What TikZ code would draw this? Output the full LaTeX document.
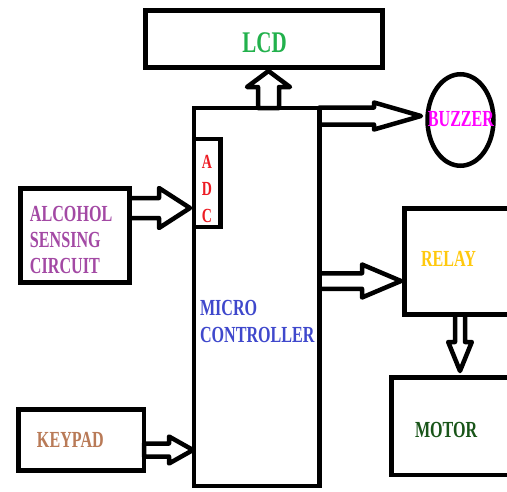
\documentclass[tikz,border=0pt]{standalone}
\usepackage{fontspec}
\usetikzlibrary{calc,shapes.geometric}
\newfontfamily\lblfont[FakeStretch=0.7]{Liberation Serif}
\definecolor{lcdgreen}{RGB}{34,177,76}
\definecolor{alcpurple}{RGB}{163,73,164}
\definecolor{mcublue}{RGB}{63,72,204}
\definecolor{keybrown}{RGB}{185,122,87}
\definecolor{relaygold}{RGB}{255,201,14}
\definecolor{motorgreen}{RGB}{25,85,25}
\definecolor{buzzmag}{RGB}{255,0,255}
\definecolor{adcred}{RGB}{237,28,36}
\tikzset{
  box/.style={draw=black, line width=4.5pt, rectangle, inner sep=0pt, outer sep=0pt},
  arrowline/.style={draw=black, line width=4.5pt, line join=round},
  lbl/.style={inner sep=0pt, outer sep=0pt, anchor=base west, font=\lblfont\bfseries\fontsize{23}{26}\selectfont},
}
\newcommand\blockarrow[5]{%
  \coordinate (ba-h) at ($(#2)!#5!(#1)$);
  \draw[arrowline] ($(#1)!#3!90:(#2)$) -- ($(ba-h)!#3!90:(#2)$) -- ($(ba-h)!#4!90:(#2)$)
    -- (#2) -- ($(ba-h)!#4!-90:(#2)$) -- ($(ba-h)!#3!-90:(#2)$) -- ($(#1)!#3!-90:(#2)$) -- cycle;
}
\begin{document}
\begin{tikzpicture}[x=1pt,y=-1pt]
\useasboundingbox (0,0) rectangle (507,491);
\clip (0,0) rectangle (507,491);
\fill[white] (0,0) rectangle (507,491);
% boxes
\node[box, minimum width=237pt, minimum height=57pt] (lcd) at (264,39) {};
\node[box, minimum width=125.5pt, minimum height=378pt] (mcu) at (256.75,297) {};
\node[box, minimum width=26.5pt, minimum height=88pt] (adc) at (207.25,183) {};
\node[box, minimum width=109pt, minimum height=94pt] (alc) at (75,235.5) {};
\node[box, minimum width=125.3pt, minimum height=61pt] (key) at (81.35,440) {};
\node[box, minimum width=125.3pt, minimum height=105.6pt] (relay) at (467.35,261.5) {};
\node[box, minimum width=138.5pt, minimum height=97.5pt] (motor) at (460.75,426.25) {};
\node[draw=black, line width=4.5pt, ellipse, inner sep=0pt, minimum width=66pt, minimum height=91.5pt] (buzz) at (460.5,120) {};
% labels
\node[lbl, anchor=base, font=\lblfont\bfseries\fontsize{30}{32}\selectfont, text=lcdgreen] (tlcd) at (264.5,52) {LCD};
\node[lbl, text=alcpurple, align=left, anchor=north west] (talc) at (30,206.5) {ALCOHOL\\SENSING\\CIRCUIT};
\node[lbl, text=mcublue] (tmicro) at (200,315) {MICRO};
\node[lbl, text=mcublue] (tctrl) at (200,342) {CONTROLLER};
\node[lbl, text=keybrown] (tkey) at (37,447) {KEYPAD};
\node[lbl, text=relaygold] (trelay) at (421,266) {RELAY};
\node[lbl, text=motorgreen] (tmotor) at (415,437) {MOTOR};
\node[lbl, anchor=base, text=buzzmag] (tbuzz) at (461,126) {BUZZER};
\node[lbl, anchor=base, text=adcred, font=\lblfont\bfseries\fontsize{20}{22}\selectfont] (tadcA) at (207,168) {A};
\node[lbl, anchor=base, text=adcred, font=\lblfont\bfseries\fontsize{20}{22}\selectfont] (tadcD) at (207,195) {D};
\node[lbl, anchor=base, text=adcred, font=\lblfont\bfseries\fontsize{20}{22}\selectfont] (tadcC) at (207,222) {C};
% connector end points
\coordinate (a1s) at (129.5,208);  \coordinate (a1e) at (190,208);
\coordinate (a2s) at (268.5,108);  \coordinate (a2e) at (268.5,71);
\coordinate (a3s) at (319.5,116);  \coordinate (a3e) at (421,116);
\coordinate (a4s) at (319.5,281);  \coordinate (a4e) at (401,281);
\coordinate (a5s) at (460,314.3);  \coordinate (a5e) at (460,371);
\coordinate (a6s) at (144,450);    \coordinate (a6e) at (193,450);
% block arrows
\blockarrow{a1s}{a1e}{10pt}{20pt}{31pt}
\blockarrow{a2s}{a2e}{10.5pt}{21.5pt}{16pt}
\blockarrow{a3s}{a3e}{8.5pt}{13.5pt}{47pt}
\blockarrow{a4s}{a4e}{7.75pt}{16.5pt}{39pt}
\blockarrow{a5s}{a5e}{5pt}{11.8pt}{29pt}
\blockarrow{a6s}{a6e}{6.5pt}{13.5pt}{24pt}
\end{tikzpicture}
\end{document}
